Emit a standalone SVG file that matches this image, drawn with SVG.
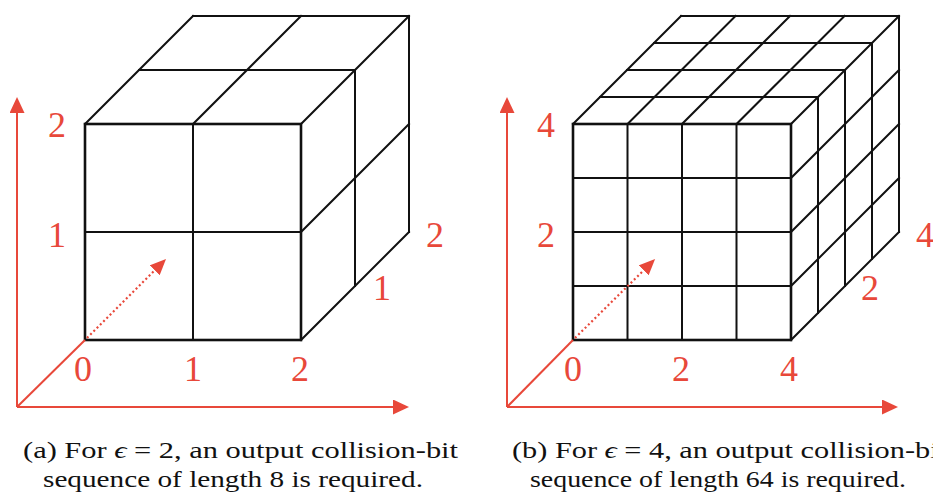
<svg xmlns="http://www.w3.org/2000/svg" width="933" height="493" viewBox="0 0 933 493">
<defs>
<style>
.e{stroke:#111;stroke-width:2;fill:none;stroke-linecap:square}
.f{stroke:#111;stroke-width:2.6;fill:none}
.ax{stroke:#E8483A;stroke-width:2;fill:none}
.dot{stroke:#E8483A;stroke-width:2.2;fill:none;stroke-dasharray:2 2.6}
.lab{font-family:"Liberation Serif","Times New Roman",serif;font-size:36px;fill:#E8483A;text-anchor:middle}
.cap{font-family:"Liberation Serif","DejaVu Serif",serif;font-size:24px;fill:#111}
</style>
<marker id="ah" viewBox="0 0 16 15" refX="0" refY="7.5" markerWidth="16" markerHeight="15" markerUnits="userSpaceOnUse" orient="auto">
<path d="M0,0 L16,7.5 L0,15 z" fill="#E8483A"/>
</marker>
<marker id="ahs" viewBox="0 0 16 14" refX="0" refY="7" markerWidth="16" markerHeight="14" markerUnits="userSpaceOnUse" orient="auto">
<path d="M0,0 L16,7 L0,14 z" fill="#E8483A"/>
</marker>
</defs>
<rect width="933" height="493" fill="#fff"/>

<g id="cube-a">
<path class="e" d="M193,124V340 M85,232H301 M85,124L193,16 M193,124L301,16 M301,124L409,16 M139,70H355 M193,16H409 M301,232L409,124 M301,340L409,232 M355,70V286 M409,16V232"/>
<rect class="f" x="85" y="124" width="216" height="216"/>
</g>

<g id="cube-b">
<path class="e" d="M627.5,124V340 M682,124V340 M736.5,124V340 M573,178H791 M573,232H791 M573,286H791
M573,124L681,16 M627.5,124L735.5,16 M682,124L790,16 M736.5,124L844.5,16 M791,124L899,16
M600,97H818 M627,70H845 M654,43H872 M681,16H899
M791,178L899,70 M791,232L899,124 M791,286L899,178 M791,340L899,232
M818,97V313 M845,70V286 M872,43V259 M899,16V232"/>
<rect class="f" x="573" y="124" width="218" height="216"/>
</g>

<g id="connectors">
<line class="ax" x1="17" y1="407" x2="17" y2="113" marker-end="url(#ah)"/>
<line class="ax" x1="17" y1="407" x2="393" y2="407" marker-end="url(#ah)"/>
<line class="ax" x1="17" y1="407" x2="85" y2="340"/>
<line class="dot" x1="87" y1="338" x2="154.7" y2="270.3" marker-end="url(#ahs)"/>
<line class="ax" x1="507" y1="407" x2="507" y2="113" marker-end="url(#ah)"/>
<line class="ax" x1="507" y1="407" x2="882" y2="407" marker-end="url(#ah)"/>
<line class="ax" x1="507" y1="407" x2="573" y2="340"/>
<line class="dot" x1="575" y1="338" x2="643.7" y2="270.3" marker-end="url(#ahs)"/>
</g>

<g id="labels-a">
<text class="lab" x="57" y="137">2</text>
<text class="lab" x="57" y="247">1</text>
<text class="lab" x="83" y="381">0</text>
<text class="lab" x="193" y="381">1</text>
<text class="lab" x="300" y="381">2</text>
<text class="lab" x="382" y="300">1</text>
<text class="lab" x="435" y="247">2</text>
</g>

<g id="labels-b">
<text class="lab" x="546" y="137">4</text>
<text class="lab" x="546" y="247">2</text>
<text class="lab" x="573" y="381">0</text>
<text class="lab" x="681" y="381">2</text>
<text class="lab" x="789" y="381">4</text>
<text class="lab" x="870" y="300">2</text>
<text class="lab" x="925" y="247">4</text>
</g>

<g id="caption-a">
<text class="cap" x="23" y="458" textLength="435" lengthAdjust="spacingAndGlyphs">(a) For <tspan font-style="italic">ϵ</tspan> = 2, an output collision-bit</text>
<text class="cap" x="43" y="487" textLength="380" lengthAdjust="spacingAndGlyphs">sequence of length 8 is required.</text>
</g>
<g id="caption-b">
<text class="cap" x="512" y="458" textLength="435" lengthAdjust="spacingAndGlyphs">(b) For <tspan font-style="italic">ϵ</tspan> = 4, an output collision-bit</text>
<text class="cap" x="530" y="487" textLength="376" lengthAdjust="spacingAndGlyphs">sequence of length 64 is required.</text>
</g>
</svg>
